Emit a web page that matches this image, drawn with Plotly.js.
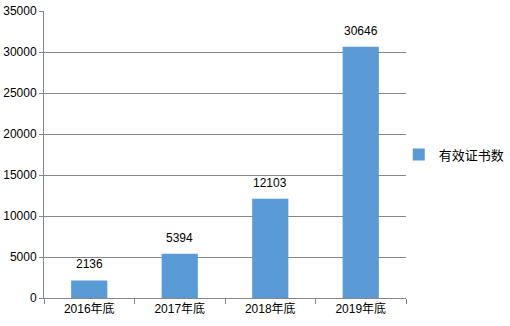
<!DOCTYPE html>
<html>
<head>
<meta charset="utf-8">
<script src="https://cdn.plot.ly/plotly-3.0.1.min.js"></script>
<style>html,body{margin:0;padding:0;background:#fff;}#chart{width:510px;height:326px;}</style>
</head>
<body>
<div id="chart"></div>
<script>
const categories = ["2016年底", "2017年底", "2018年底", "2019年底"];
const values = [2136, 5394, 12103, 30646];
const seriesName = "有效证书数";
const yTicks = [0, 5000, 10000, 15000, 20000, 25000, 30000, 35000];

const fontFam = '"Liberation Sans", "Noto Sans CJK SC", sans-serif';

const trace = {
  type: "bar",
  x: categories,
  y: values,
  name: seriesName,
  marker: {color: "#5B9BD5"},
  hoverinfo: "none"
};

const annotations = categories.map((c, i) => ({
  x: c, y: values[i], text: String(values[i]),
  showarrow: false, yanchor: "bottom", yshift: 7,
  font: {family: fontFam, size: 12, color: "#000"}
}));

const layout = {
  width: 510, height: 326,
  margin: {l: 44, r: 104, t: 11, b: 28, pad: 0, autoexpand: false},
  paper_bgcolor: "#fff", plot_bgcolor: "#fff",
  showlegend: true,
  bargap: 0.6,
  font: {family: fontFam, size: 12, color: "#000"},
  xaxis: {
    type: "category",
    tickson: "boundaries",
    ticks: "outside", ticklen: 5, tickcolor: "#868686",
    showline: true, linecolor: "#868686", linewidth: 1,
    showgrid: false, zeroline: false,
    tickfont: {family: fontFam, size: 12, color: "#000"}
  },
  yaxis: {
    range: [0, 35000],
    tickvals: yTicks,
    ticktext: yTicks.map(String),
    ticks: "outside", ticklen: 4, tickcolor: "#868686",
    showline: true, linecolor: "#868686", linewidth: 1,
    showgrid: true, gridcolor: "#868686", gridwidth: 1,
    zeroline: false,
    tickfont: {family: fontFam, size: 12, color: "#000"}
  },
  legend: {
    x: 0.98, xanchor: "left", y: 0.5, yanchor: "middle",
    font: {family: fontFam, size: 13, color: "#000"},
    bgcolor: "rgba(0,0,0,0)"
  },
  annotations: annotations
};

Plotly.newPlot("chart", [trace], layout, {staticPlot: true, displayModeBar: false});
</script>
</body>
</html>
